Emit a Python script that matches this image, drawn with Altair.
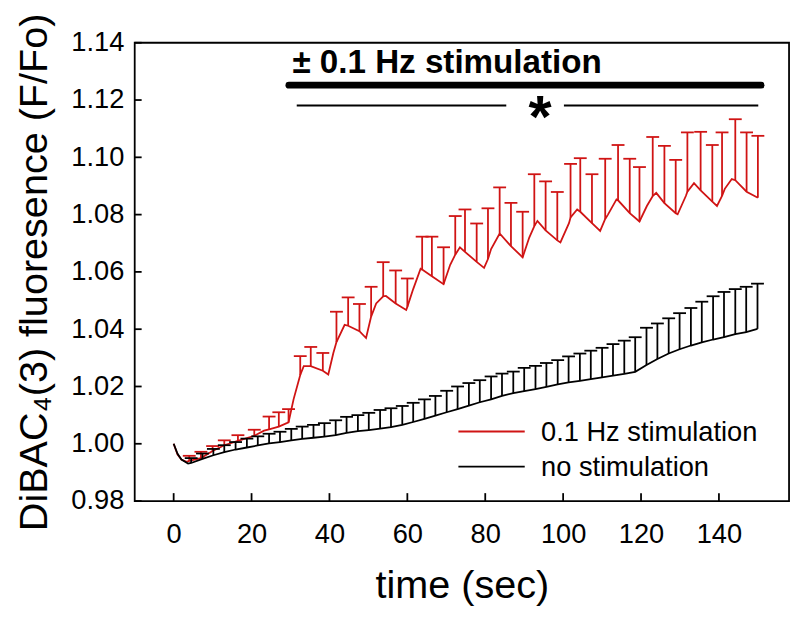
import altair as alt
import pandas as pd

RED = "#d01414"
BLACK = "#000000"
FONT = "Liberation Sans"

# ---------------- data ----------------
red_t = [0, 1, 2, 3.3, 4, 7, 10, 13, 16.5, 20.7, 23.2, 24.5, 27, 29.5, 30.8,
         32.5, 33.4, 35.2, 38.3, 39.7, 41.0, 41.8, 43.9, 44.8, 47.7, 49.4, 50.7,
         52, 53.8, 54.5, 57, 59.7, 60, 61.5, 63.4, 63.8, 66.3, 69.3, 71, 72.3,
         73.5, 74.8, 77.8, 79.7, 80.7, 81.5, 83.7, 86.6, 89.6, 91.3, 92.6, 93.4,
         95.5, 98.5, 99.3, 101.5, 101.9, 103.6, 104.4, 107.4, 109.5, 110.8, 111.5,
         113.7, 114.1, 117.1, 119.6, 121.5, 123, 123.9, 126, 128.9, 129.4, 131.5,
         131.9, 133.6, 135.3, 138.3, 139.5, 140.8, 141.5, 143.3, 144.2, 147.1, 150]
red_v = [1.000, 0.9962, 0.9945, 0.9937, 0.9940, 0.9950, 0.9975, 0.9995, 1.0010,
         1.0028, 1.0046, 1.0050, 1.0060, 1.0075, 1.0156, 1.0240, 1.0271, 1.0271,
         1.0255, 1.0242, 1.0317, 1.0355, 1.0415, 1.0412, 1.0393, 1.0369, 1.0444,
         1.0490, 1.0515, 1.0516, 1.0490, 1.0467, 1.0478, 1.0540, 1.0611, 1.0608,
         1.0585, 1.0557, 1.0625, 1.0660, 1.0686, 1.0670, 1.0635, 1.0614, 1.0645,
         1.0680, 1.0734, 1.0690, 1.0651, 1.0720, 1.0760, 1.0778, 1.0745, 1.0710,
         1.0703, 1.0770, 1.0790, 1.0818, 1.0810, 1.0770, 1.0743, 1.0785, 1.0800,
         1.0853, 1.0850, 1.0805, 1.0776, 1.0830, 1.0865, 1.0876, 1.0840, 1.0805,
         1.0801, 1.0865, 1.0880, 1.0910, 1.0885, 1.0845, 1.0830, 1.0865, 1.0890,
         1.0924, 1.0920, 1.0880, 1.0859]

red_bar_t = [4, 7, 10, 13, 16.5, 20.7, 24.5, 27, 29.5, 32.5, 35.2, 38.3, 41.8,
             44.8, 47.7, 50.7, 53.8, 57, 60, 63.8, 66.3, 69.3, 72.3, 74.8, 77.8,
             80.7, 83.7, 86.6, 89.6, 92.6, 95.5, 98.5, 101.9, 104.4, 107.4, 110.8,
             114.1, 117.1, 119.6, 123, 126, 128.9, 131.9, 135.3, 138.3, 140.8,
             144.2, 147.1, 150]
red_bar_top = [0.9958, 0.9972, 0.9992, 1.0012, 1.0030, 1.0049, 1.0095, 1.0110,
               1.0121, 1.0306, 1.0338, 1.0317, 1.0461, 1.0511, 1.0488, 1.0548,
               1.0634, 1.0605, 1.0577, 1.0723, 1.0723, 1.0686, 1.0795, 1.0818,
               1.0769, 1.0822, 1.0895, 1.0841, 1.0810, 1.0941, 1.0916, 1.0879,
               1.0977, 1.0997, 1.0941, 1.0995, 1.1043, 1.0995, 1.0966, 1.1071,
               1.1040, 1.0991, 1.1087, 1.1089, 1.1043, 1.1087, 1.1133, 1.1087,
               1.1075]

black_start_t = [0, 1, 2, 3.7]
black_start_v = [1.000, 0.9965, 0.9945, 0.9931]
black_bar_t = [4.5, 7.4, 10.2, 13.0, 15.9, 18.8, 21.6, 24.5, 27.3, 30.2, 33.0,
               35.9, 38.7, 41.6, 44.4, 47.3, 50.1, 53.0, 55.8, 58.7, 61.5, 64.4,
               67.2, 70.1, 72.9, 75.8, 78.6, 81.5, 84.3, 87.2, 90.0, 92.9, 95.7,
               98.6, 101.4, 104.3, 107.1, 110.0, 112.8, 115.7, 118.5, 121.4,
               124.2, 127.1, 129.9, 132.8, 135.6, 138.5, 141.3, 144.2, 147.0,
               149.9]
black_bar_mean = [0.9933, 0.9947, 0.9960, 0.9971, 0.9980, 0.9987, 0.9994, 1.0001,
                  1.0006, 1.0012, 1.0017, 1.0021, 1.0025, 1.0030, 1.0038, 1.0044,
                  1.0048, 1.0053, 1.0058, 1.0066, 1.0076, 1.0087, 1.0098, 1.0110,
                  1.0121, 1.0133, 1.0145, 1.0155, 1.0167, 1.0177, 1.0184, 1.0191,
                  1.0199, 1.0207, 1.0214, 1.0220, 1.0226, 1.0232, 1.0238, 1.0244,
                  1.0251, 1.0275, 1.0296, 1.0315, 1.0330, 1.0343, 1.0354, 1.0364,
                  1.0372, 1.0383, 1.0390, 1.0401]
black_bar_top = [0.9950, 0.9966, 0.9982, 0.9995, 1.0006, 1.0018, 1.0026, 1.0035,
                 1.0042, 1.0052, 1.0060, 1.0066, 1.0072, 1.0082, 1.0094, 1.0100,
                 1.0108, 1.0118, 1.0124, 1.0132, 1.0143, 1.0155, 1.0167, 1.0185,
                 1.0200, 1.0212, 1.0222, 1.0235, 1.0245, 1.0252, 1.0265, 1.0272,
                 1.0282, 1.0292, 1.0305, 1.0315, 1.0325, 1.0335, 1.0348, 1.0360,
                 1.0372, 1.0405, 1.0420, 1.0438, 1.0456, 1.0474, 1.0496, 1.0515,
                 1.0530, 1.0540, 1.0548, 1.0559]

x_ticks = [0, 20, 40, 60, 80, 100, 120, 140]
y_ticks = [0.98, 1.00, 1.02, 1.04, 1.06, 1.08, 1.10, 1.12, 1.14]

stim_label = ["± 0.1 Hz stimulation"]
stim_label_pos = [30.5, 1.1296]
stim_bar = [29.6, 150.8, 1.1252]
sig_left = [31.6, 85.4, 1.1181]
sig_right = [100.2, 150.1, 1.1181]
sig_star = [94.1, 1.1181]

legend_labels = ["0.1 Hz stimulation", "no stimulation"]
legend_colors = [RED, BLACK]

# ---------------- tables ----------------
red_line = pd.DataFrame({"t": red_t, "v": red_v})
red_bars = pd.DataFrame({"t": red_bar_t, "top": red_bar_top}).merge(red_line, on="t")
black_line = pd.DataFrame({"t": black_start_t + black_bar_t,
                           "v": black_start_v + black_bar_mean})
black_bars = pd.DataFrame({"t": black_bar_t, "v": black_bar_mean, "top": black_bar_top})

W, H = 661, 463
LW = 1.8
CAP = 6.5
xs = alt.Scale(domain=[-10, 158], nice=False, zero=False)
ys = alt.Scale(domain=[0.98, 1.14], nice=False, zero=False)

x_axis = alt.Axis(values=x_ticks, format="d", grid=False, domain=False, ticks=False,
                  tickSize=0, labelFont=FONT, labelFontSize=27.5, labelColor=BLACK,
                  labelPadding=42, labelBaseline="alphabetic",
                  title="time (sec)", titleFont=FONT, titleFontSize=40,
                  titleFontWeight="normal", titleColor=BLACK,
                  titleX=W / 2, titleY=97, titleBaseline="alphabetic")
y_axis = alt.Axis(values=y_ticks, format=".2f", grid=False, domain=False, ticks=False,
                  tickSize=0, labelFont=FONT, labelFontSize=27.5, labelColor=BLACK,
                  labelPadding=11, labelAlign="right", labelBaseline="middle",
                  title="DiBAC₄(3) fluoresence (F/Fo)", titleFont=FONT,
                  titleFontSize=40, titleFontWeight="normal", titleColor=BLACK,
                  titleAngle=270, titleX=-89, titleY=H / 2,
                  titleBaseline="alphabetic", titleAlign="center")


def X(field="t"):
    return alt.X(f"{field}:Q", scale=xs, axis=x_axis)


def Y(field="v"):
    return alt.Y(f"{field}:Q", scale=ys, axis=y_axis)


def series(line_df, bars_df, color):
    line = alt.Chart(line_df).mark_line(color=color, strokeWidth=LW).encode(x=X(), y=Y())
    err = alt.Chart(bars_df).mark_rule(color=color, strokeWidth=LW).encode(
        x=X(), y=Y(), y2="top:Q")
    cap = alt.Chart(bars_df).mark_rule(color=color, strokeWidth=LW,
                                       xOffset=-CAP, x2Offset=CAP).encode(
        x=X(), x2="t:Q", y=Y("top"))
    return [line, err, cap]


red_layers = series(red_line, red_bars, RED)
black_layers = series(black_line, black_bars, BLACK)

# inward ticks
xt = alt.Chart(pd.DataFrame({"t": x_ticks})).mark_rule(color=BLACK, strokeWidth=1.8).encode(
    x=X(), y=alt.value(H), y2=alt.value(H - 8))
yt = alt.Chart(pd.DataFrame({"v": y_ticks})).mark_rule(color=BLACK, strokeWidth=1.8).encode(
    y=Y(), x=alt.value(0), x2=alt.value(7))

# annotations
stim_df = pd.DataFrame({"t": [stim_bar[0]], "t2": [stim_bar[1]], "v": [stim_bar[2]]})
stim_rule = alt.Chart(stim_df).mark_rule(color=BLACK, strokeWidth=7, strokeCap="round").encode(
    x=X(), x2="t2:Q", y=Y())
stim_txt = alt.Chart(pd.DataFrame({"t": [stim_label_pos[0]], "v": [stim_label_pos[1]],
                                   "s": stim_label})).mark_text(
    font=FONT, fontSize=33.5, fontWeight="bold", align="left", baseline="alphabetic",
    color=BLACK).encode(x=X(), y=Y(), text="s:N")
sig_df = pd.DataFrame({"t": [sig_left[0], sig_right[0]], "t2": [sig_left[1], sig_right[1]],
                       "v": [sig_left[2], sig_right[2]]})
sig_rule = alt.Chart(sig_df).mark_rule(color=BLACK, strokeWidth=2).encode(
    x=X(), x2="t2:Q", y=Y())
star = alt.Chart(pd.DataFrame({"t": [sig_star[0]], "v": [sig_star[1]], "s": ["*"]})).mark_text(
    font=FONT, fontSize=60, fontWeight="bold", align="center", baseline="middle",
    dy=14, color=BLACK).encode(x=X(), y=Y(), text="s:N")

# legend
leg = []
for i, (lab, col) in enumerate(zip(legend_labels, legend_colors)):
    ly = 392.7 + 35.5 * i
    leg.append(alt.Chart(pd.DataFrame({"s": [lab]})).mark_rule(color=col, strokeWidth=2).encode(
        x=alt.value(327), x2=alt.value(394), y=alt.value(ly)))
    leg.append(alt.Chart(pd.DataFrame({"s": [lab]})).mark_text(
        font=FONT, fontSize=27.5, align="left", baseline="alphabetic", color=BLACK).encode(
        x=alt.value(410.5), y=alt.value(ly + 9.5), text="s:N"))

chart = alt.layer(*red_layers, *black_layers,
                  xt, yt, stim_rule, stim_txt, sig_rule, star, *leg).properties(
    width=W, height=H,
    background="white",
    autosize=alt.AutoSizeParams(type="none"),
    padding={"left": 128, "top": 32, "right": 4, "bottom": 112},
).configure_view(stroke=BLACK, strokeWidth=1.8)

chart.save("out.html", embed_options={"renderer": "svg", "actions": False})
